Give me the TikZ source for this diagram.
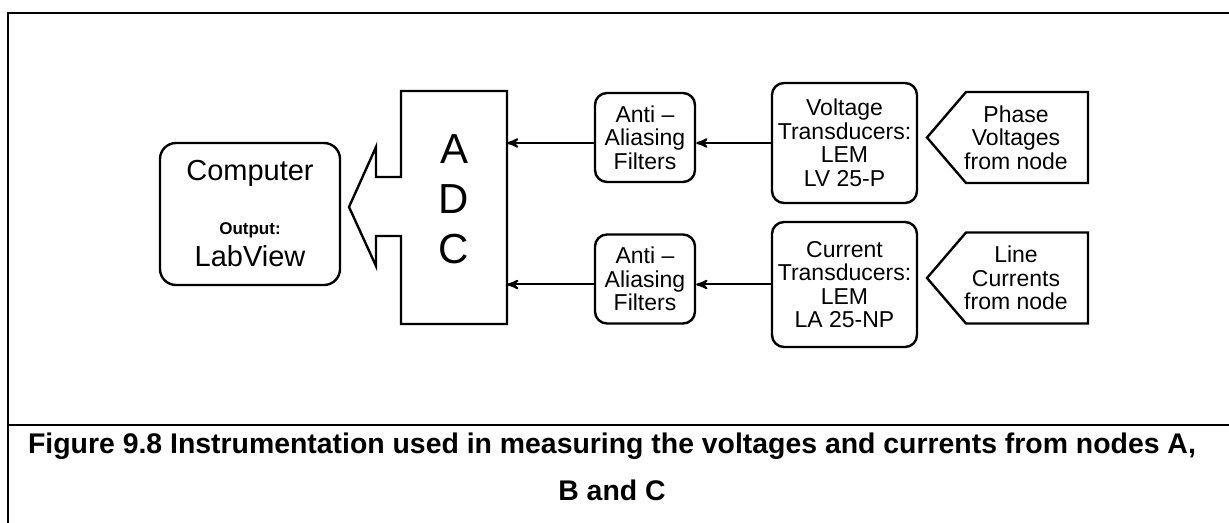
\documentclass[tikz,border=0pt]{standalone}
\usepackage{fontspec}
\setmainfont{Liberation Sans}
\usetikzlibrary{arrows,calc}
\tikzset{>=stealth',
bx/.style={rectangle,draw,rounded corners=6pt,align=center,inner sep=0pt,line width=1.2pt,
  font=\fontsize{11.5}{11.75}\selectfont},
src/.style={rectangle,align=center,inner sep=0pt,minimum width=71pt,minimum height=44.5pt,
  font=\fontsize{11.5}{11.75}\selectfont},
captxt/.style={font=\fontsize{14.2}{16}\selectfont\bfseries},
}

\begin{document}
\begin{tikzpicture}[x=0.5pt,y=-0.5pt,line width=1pt]
\useasboundingbox (0,0) rectangle (1229,523);
% frame
\draw (8,523) -- (8,13) -- (1229,13);
\draw (8,425) -- (1229,425);

\node[bx,rounded corners=8pt,minimum width=90pt,minimum height=71pt,
  font=\fontsize{14.5}{16}\selectfont] (comp) at (250,214)
  {Computer\\[11pt]{\fontsize{8.5}{9}\selectfont\bfseries Output:}\\[0pt]LabView};
\node[minimum width=52pt,minimum height=115.5pt,align=center,text depth=8pt,
  font=\fontsize{21}{25}\selectfont] (adc) at (454,207.5) {A\\D\\C};
\node[bx,minimum width=50pt,minimum height=44.5pt] (f1) at (645,137.5) {Anti --\\Aliasing\\Filters};
\node[bx,minimum width=50pt,minimum height=44.5pt] (f2) at (645,279) {Anti --\\Aliasing\\Filters};
\node[bx,minimum width=72.5pt,minimum height=60pt] (t1) at (844.5,143) {Voltage\\Transducers:\\LEM\\LV 25-P};
\node[bx,minimum width=72.5pt,minimum height=62.5pt] (t2) at (844.5,284.5) {Current\\Transducers:\\LEM\\LA 25-NP};
\node[src] (s1) at (1016,137.5) {Phase\\Voltages\\from node};
\node[src] (s2) at (1016,278) {Line\\Currents\\from node};

% source tags
\foreach \n in {s1,s2}
  \draw[line width=1.2pt] (\n.north east) -- ($(\n.north west)+(22,0)$) -- ($(\n.west)+(-17,0)$)
    -- ($(\n.south west)+(22,0)$) -- (\n.south east) -- cycle;

% ADC outline with the output arrow
\draw[line width=1.2pt] (adc.north east) -- (adc.north west) -- ++(0,86) -- ++(-25,0) -- ++(0,-30)
  -- ++(-27,60) -- ++(27,59) -- ++(0,-30) -- ++(25,0) -- (adc.south west) -- (adc.south east) -- cycle;

\path[->]
(t1.west) edge (t1.west -| f1.east)
(f1.west |- t1.west) edge (adc.east |- t1.west)
(t2.west) edge (t2.west -| f2.east)
(f2.west |- t2.west) edge (adc.east |- t2.west)
;

\node[captxt] (cap1) at (612,446) {Figure 9.8 Instrumentation used in measuring the voltages and currents from nodes A,};
\node[captxt] (cap2) at (612,490) {B and C};
\end{tikzpicture}
\end{document}
